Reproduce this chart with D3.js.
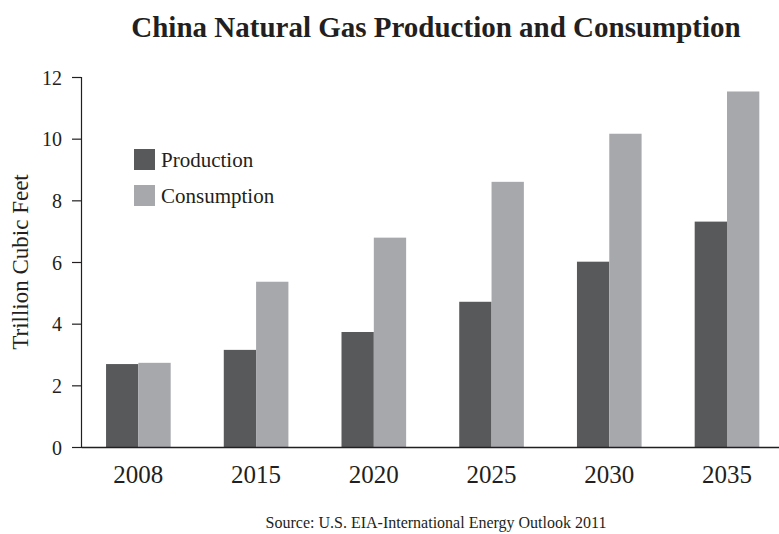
<!DOCTYPE html>
<html>
<head>
<meta charset="utf-8">
<script src="https://cdn.jsdelivr.net/npm/d3@7"></script>
<style>
  html, body { margin: 0; padding: 0; background: #fff; }
  svg { display: block; }
  text { font-family: "Liberation Serif", "Times New Roman", serif; fill: #231f20; }
</style>
</head>
<body>
<svg id="chart" width="779" height="534"></svg>
<script>
const years = ["2008", "2015", "2020", "2025", "2030", "2035"];
const seriesNames = ["Production", "Consumption"];
const production = [2.69, 3.15, 3.73, 4.71, 6.01, 7.31];
const consumption = [2.73, 5.36, 6.79, 8.60, 10.16, 11.53];
const yTicks = [0, 2, 4, 6, 8, 10, 12];
const colors = ["#58595b", "#a7a8ac"];

const svg = d3.select("#chart");
const mLeft = 81, mRight = 779, mTop = 77, mBottom = 447;

const x0 = d3.scaleBand().domain(years).range([mLeft, mRight])
  .paddingInner(0.451).paddingOuter(0.19).align(0.56);
const x1 = d3.scaleBand().domain(seriesNames).range([0, x0.bandwidth()]);
const y = d3.scaleLinear().domain([0, 12]).range([mBottom, mTop]);

const rows = years.map((yr, i) => ({ year: yr, values: [production[i], consumption[i]] }));

// Title
svg.append("text").attr("x", 436).attr("y", 37).attr("text-anchor", "middle")
  .style("font-size", "29px").style("font-weight", "bold")
  .text("China Natural Gas Production and Consumption");

// Bars
const g = svg.append("g");
g.selectAll("g.grp").data(rows).join("g").attr("class", "grp")
  .attr("transform", d => `translate(${x0(d.year)},0)`)
  .selectAll("rect").data(d => d.values.map((v, j) => ({ key: seriesNames[j], v, j })))
  .join("rect")
  .attr("x", d => x1(d.key)).attr("width", x1.bandwidth())
  .attr("y", d => y(d.v)).attr("height", d => y(0) - y(d.v))
  .attr("fill", d => colors[d.j]);

// Y axis
const yAxis = d3.axisLeft(y).tickValues(yTicks).tickSize(9).tickPadding(10).tickFormat(d3.format("d"));
const ya = svg.append("g").attr("transform", `translate(${mLeft},0)`).call(yAxis);
ya.select(".domain").attr("stroke", "#231f20").attr("stroke-width", 1.2);
ya.selectAll(".tick line").attr("stroke", "#231f20").attr("stroke-width", 1.2);
ya.selectAll(".tick text").style("font-family", '"Liberation Serif", serif')
  .style("font-size", "20px").attr("fill", "#231f20").attr("dy", "0.35em");

// X axis
const xAxis = d3.axisBottom(x0).tickSize(0).tickPadding(18);
const xa = svg.append("g").attr("transform", `translate(0,${mBottom})`).call(xAxis);
xa.select(".domain").attr("stroke", "#231f20").attr("stroke-width", 1.5);
xa.selectAll(".tick text").style("font-family", '"Liberation Serif", serif')
  .style("font-size", "25px").attr("fill", "#231f20");

// Y label
svg.append("text").attr("transform", "translate(28,262) rotate(-90)")
  .attr("text-anchor", "middle").style("font-size", "23px").text("Trillion Cubic Feet");

// Legend
const leg = svg.append("g").attr("transform", "translate(134,149)");
seriesNames.forEach((s, i) => {
  const r = leg.append("g").attr("transform", `translate(0,${i * 36})`);
  r.append("rect").attr("width", 21).attr("height", 21).attr("fill", colors[i]);
  r.append("text").attr("x", 27).attr("y", 18).style("font-size", "21px").text(s);
});

// Source
svg.append("text").attr("x", 436).attr("y", 528).attr("text-anchor", "middle")
  .style("font-size", "16px").text("Source: U.S. EIA-International Energy Outlook 2011");
</script>
</body>
</html>
